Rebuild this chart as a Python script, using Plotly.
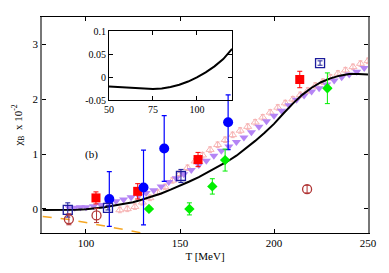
import plotly.graph_objects as go

# ---- data ----
curve_T = [77, 85, 90, 95, 100, 105, 110, 115, 120, 125, 130, 135, 140, 145, 150, 155, 160, 165, 170, 175,
           180, 185, 190, 195, 200, 205, 210, 215, 220, 225, 230, 235, 240, 245, 250]
curve_y = [-0.02, -0.02, -0.02, -0.015, -0.005, 0.01, 0.03, 0.06, 0.09, 0.12, 0.17, 0.22, 0.28, 0.35, 0.42,
           0.5, 0.58, 0.67, 0.76, 0.86, 0.97, 1.1, 1.24, 1.39, 1.55, 1.74, 1.92, 2.08, 2.21, 2.31, 2.38, 2.43,
           2.46, 2.46, 2.45]

dash_T = [77, 90, 100, 110, 120, 130, 140]
dash_y = [-0.14, -0.19, -0.25, -0.31, -0.37, -0.44, -0.52]

red_T = [105.3, 127.5, 159.6, 213.7]
red_y = [0.2, 0.32, 0.9, 2.36]
red_e = [0.11, 0.14, 0.13, 0.15]

blue_T = [112.4, 130.6, 141.6, 175.6]
blue_y = [0.18, 0.39, 1.1, 1.58]
blue_e = [0.5, 0.68, 0.6, 0.5]

navy_T = [90.3, 111.7, 150.5, 224.5]
navy_y = [-0.02, 0.02, 0.6, 2.66]
navy_e = [0.13, 0.04, 0.12, 0.04]

brown_T = [90.9, 105.6, 217.6]
brown_y = [-0.19, -0.12, 0.36]
brown_e = [0.1, 0.13, 0.07]

green_T = [133.5, 155.0, 167.2, 174.0, 228.4]
green_y = [0.0, 0.0, 0.41, 0.89, 2.2]
green_e = [0.03, 0.11, 0.14, 0.2, 0.28]

purple_T = [91, 94, 97, 100, 104, 108, 112, 116, 120, 124, 128, 132, 136, 140, 144, 148, 152, 156, 160,
            164, 168, 172, 176, 180, 184, 188, 192, 196, 200, 204, 208, 212, 216, 220, 224, 228, 232, 236,
            240, 244, 248]
purple_y = [0.02, 0.02, 0.03, 0.03, 0.05, 0.07, 0.1, 0.14, 0.17, 0.21, 0.24, 0.29, 0.34, 0.41, 0.49,
            0.56, 0.63, 0.71, 0.8, 0.88, 0.97, 1.06, 1.14, 1.22, 1.3, 1.4, 1.5, 1.6, 1.7, 1.79, 1.89,
            1.99, 2.07, 2.14, 2.2, 2.27, 2.34, 2.4, 2.45, 2.5, 2.57]

pink_T = [118, 122, 126, 130, 134, 138, 142, 146, 150, 154, 158, 162, 166, 170, 174, 178, 182, 186, 190,
          194, 198, 202, 206, 210, 214, 218, 222, 226, 230, 234, 238, 242, 246, 250]
pink_y = [-0.02, 0.0, 0.04, 0.12, 0.2, 0.3, 0.4, 0.52, 0.64, 0.75, 0.87, 0.98, 1.08, 1.17, 1.26, 1.35,
          1.43, 1.5, 1.58, 1.67, 1.76, 1.85, 1.93, 2.0, 2.08, 2.16, 2.25, 2.32, 2.4, 2.47, 2.53, 2.59,
          2.65, 2.7]
pink_e = [0.05] * len(pink_T)

inset_T = [50, 55, 60, 65, 70, 75, 80, 85, 90, 95, 100, 105, 110, 115, 120]
inset_y = [-0.02, -0.021, -0.023, -0.024, -0.025, -0.025, -0.024, -0.021, -0.016, -0.009, 0.0, 0.011,
           0.024, 0.04, 0.062]

x_ticks = [100, 150, 200, 250]
y_ticks = [0, 1, 2, 3]
ix_ticks = [50, 75, 100]
iy_ticks = [-0.05, 0, 0.05, 0.1]
iy_labels = ["-0.05", "0", "0.05", "0.1"]

FONT = "Liberation Serif"

fig = go.Figure()

fig.add_trace(go.Scatter(x=pink_T, y=pink_y, mode="markers",
                         marker=dict(symbol="triangle-up-open", size=7, color="#f7b4b4", line=dict(width=1)),
                         error_y=dict(type="data", array=pink_e, color="#f7b4b4", thickness=1, width=2)))
fig.add_trace(go.Scatter(x=purple_T, y=purple_y, mode="markers",
                         marker=dict(symbol="triangle-down", size=8, color="#b585f5")))
fig.add_trace(go.Scatter(x=curve_T, y=curve_y, mode="lines", line=dict(color="black", width=2)))
fig.add_trace(go.Scatter(x=dash_T, y=dash_y, mode="lines", line=dict(color="#f5a623", width=1.5, dash="dash")))

fig.add_trace(go.Scatter(x=red_T, y=red_y, mode="markers",
                         marker=dict(symbol="square", size=9, color="#ff0000"),
                         error_y=dict(type="data", array=red_e, color="#ff0000", thickness=1, width=2.5)))
fig.add_trace(go.Scatter(x=blue_T, y=blue_y, mode="markers",
                         marker=dict(symbol="circle", size=10, color="#0000ff"),
                         error_y=dict(type="data", array=blue_e, color="#0000ff", thickness=1.2, width=2.5)))
fig.add_trace(go.Scatter(x=navy_T, y=navy_y, mode="markers",
                         marker=dict(symbol="square-open", size=9, color="#1c1c9c", line=dict(width=1.3)),
                         error_y=dict(type="data", array=navy_e, color="#1c1c9c", thickness=1, width=2.5)))
fig.add_trace(go.Scatter(x=brown_T, y=brown_y, mode="markers",
                         marker=dict(symbol="circle-open", size=9, color="#b03535", line=dict(width=1.3)),
                         error_y=dict(type="data", array=brown_e, color="#b03535", thickness=1, width=2.5)))
fig.add_trace(go.Scatter(x=green_T, y=green_y, mode="markers",
                         marker=dict(symbol="diamond", size=8, color="#00ee00"),
                         error_y=dict(type="data", array=green_e, color="#00ee00", thickness=1, width=2.5)))

fig.add_trace(go.Scatter(x=inset_T, y=inset_y, mode="lines", line=dict(color="black", width=2),
                         xaxis="x2", yaxis="y2"))

fig.add_annotation(x=103, y=1.0, text="(b)", showarrow=False, xref="x", yref="y",
                   font=dict(family=FONT, size=11, color="black"))

axis_common = dict(ticks="inside", ticklen=4, tickcolor="black", showline=True, linecolor="black",
                   linewidth=1, mirror="allticks", showgrid=False, zeroline=False,
                   tickfont=dict(family=FONT, size=11, color="black"))

fig.update_layout(
    width=389, height=273,
    margin=dict(l=42, r=21, t=13, b=37),
    paper_bgcolor="white", plot_bgcolor="rgba(0,0,0,0)",
    showlegend=False,
    xaxis=dict(range=[76.6, 250], tickvals=x_ticks, domain=[0, 1],
               title=dict(text="T [MeV]", font=dict(family=FONT, size=11, color="black"), standoff=4),
               **axis_common),
    yaxis=dict(range=[-0.44, 3.5], tickvals=y_ticks, domain=[0, 1],
               title=dict(text="χ<sub>B</sub>  x 10<sup>-2</sup>", font=dict(family=FONT, size=11, color="black"),
                          standoff=8),
               **{**axis_common, "linecolor": "#777777", "linewidth": 1.5}),
    xaxis2=dict(range=[50, 120], tickvals=ix_ticks, domain=[0.2055, 0.583], anchor="y2",
                **{**axis_common, "tickfont": dict(family=FONT, size=10, color="black")}),
    yaxis2=dict(range=[-0.05, 0.1], tickvals=iy_ticks, ticktext=iy_labels, domain=[0.614, 0.933], anchor="x2",
                **{**axis_common, "tickfont": dict(family=FONT, size=10, color="black")}),
)

fig.write_html("out.html", config={"displayModeBar": False},
               post_script="document.body.style.margin='0';document.body.style.overflow='hidden';")
